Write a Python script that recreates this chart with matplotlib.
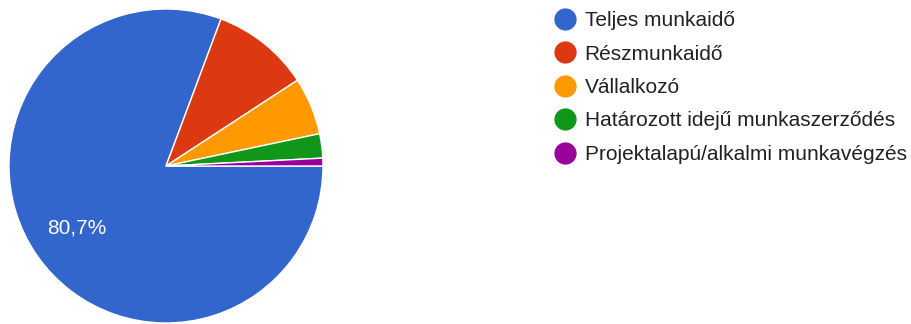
import matplotlib
matplotlib.use("Agg")
import matplotlib.pyplot as plt
from matplotlib.lines import Line2D

kategoriak = ["Teljes munkaidő", "Részmunkaidő", "Vállalkozó",
              "Határozott idejű munkaszerződés", "Projektalapú/alkalmi munkavégzés"]
szazalekok = [80.7, 10.1, 5.9, 2.5, 0.8]
szinek = ["#3366cc", "#dc3912", "#ff9900", "#109618", "#990099"]

plt.rcParams["font.family"] = ["Liberation Sans", "DejaVu Sans"]

W, H = 911, 324
fig = plt.figure(figsize=(W / 100, H / 100), dpi=100)

# kor: kozeppont (166, 166), sugar 157 px
kx, ky, r = 166, 166, 157
ax = fig.add_axes([(kx - r) / W, (H - ky - r) / H, 2 * r / W, 2 * r / H])


def felirat(p):
    # csak a legnagyobb szeletre kerul szazalek
    return f"{p:.1f}%".replace(".", ",") if p > 15 else ""


szeletek, _, szovegek = ax.pie(szazalekok, colors=szinek, startangle=0, counterclock=False,
                               autopct=felirat, pctdistance=0.69,
                               wedgeprops=dict(edgecolor="white", linewidth=1),
                               textprops=dict(color="white", fontsize=15))
ax.set_xlim(-1, 1)
ax.set_ylim(-1, 1)
ax.set_aspect("equal")
ax.axis("off")

jelek = [Line2D([], [], marker="o", linestyle="", markersize=15, color=c) for c in szinek]
fig.legend(jelek, kategoriak, loc="upper left", bbox_to_anchor=(546 / W, 1 - 3 / H),
           frameon=False, fontsize=15, labelcolor="#222222", handletextpad=0.45,
           labelspacing=0.69, handlelength=1.0, borderaxespad=0)

fig.savefig("out.png", dpi=100)
